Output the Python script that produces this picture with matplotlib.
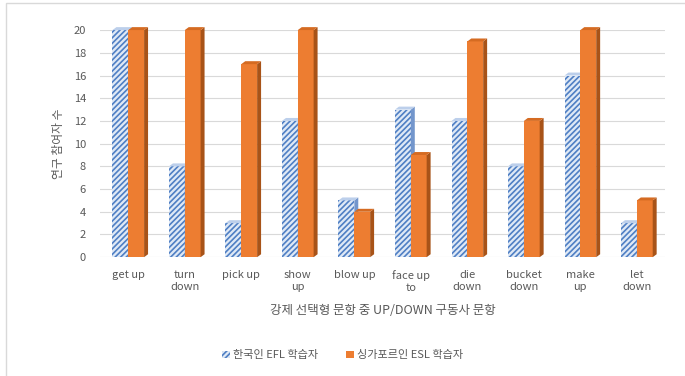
import matplotlib.pyplot as plt
from matplotlib.patches import Polygon, Rectangle, Patch
import numpy as np

plt.rcParams['font.family'] = ['Noto Sans CJK KR', 'DejaVu Sans']
plt.rcParams['hatch.linewidth'] = 1.2

categories = ['get up', 'turn\ndown', 'pick up', 'show\nup', 'blow up',
              'face up\nto', 'die\ndown', 'bucket\ndown', 'make\nup', 'let\ndown']
korean_efl = [20, 8, 3, 12, 5, 13, 12, 8, 16, 3]
singapore_esl = [20, 20, 17, 20, 4, 9, 19, 12, 20, 5]

fig = plt.figure(figsize=(6.85, 3.76), dpi=100)
ax = fig.add_axes([0.146, 0.316, 0.825, 0.604])

x = np.arange(len(categories))
w = 0.28
dx, dy = 0.07, 0.26


def bar3d(xs, vals, face, side, top, hatch=None, edge=None):
    for xc, v in zip(xs, vals):
        ax.bar(xc, v, width=w, color=face, hatch=hatch, edgecolor=edge,
               linewidth=0, zorder=3)
        r = xc + w / 2
        l = xc - w / 2
        ax.add_patch(Polygon([(r, 0), (r + dx, dy), (r + dx, v + dy), (r, v)],
                             closed=True, facecolor=side, linewidth=0,
                             zorder=3, clip_on=False))
        ax.add_patch(Polygon([(l, v), (r, v), (r + dx, v + dy), (l + dx, v + dy)],
                             closed=True, facecolor=top, linewidth=0,
                             zorder=3, clip_on=False))


bar3d(x - 0.14, korean_efl, '#dfe9f6', '#7396cc', '#bccfeb',
      hatch='//////', edge='#4f7fc4')
bar3d(x + 0.14, singapore_esl, '#ed7d31', '#a85318', '#d56b22')

ax.set_xlim(-0.5, len(categories) - 0.5)
ax.set_ylim(0, 20)
ax.set_yticks(range(0, 21, 2))
ax.set_xticks(x)
ax.set_xticklabels(categories, fontsize=8, color='#595959', linespacing=1.3)
ax.tick_params(axis='y', labelsize=8, labelcolor='#595959', length=0, pad=10)
ax.tick_params(axis='x', length=0, pad=9)
ax.yaxis.grid(True, color='#d9d9d9', linewidth=0.8, zorder=0)
ax.set_axisbelow(True)
for s in ax.spines.values():
    s.set_visible(False)

ax.set_ylabel('연구 참여자 수', fontsize=8.5, color='#595959', labelpad=6)
ax.set_xlabel('강제 선택형 문항 중 UP/DOWN 구동사 문항', fontsize=9,
              color='#595959', labelpad=8)

handles = [Patch(facecolor='#dfe9f6', edgecolor='#4f7fc4', hatch='//////', linewidth=0),
           Patch(facecolor='#ed7d31', linewidth=0)]
fig.legend(handles, ['한국인 EFL 학습자', '싱가포르인 ESL 학습자'],
           loc='center', bbox_to_anchor=(0.5, 0.055), ncol=2, frameon=False,
           fontsize=8, handlelength=0.7, handleheight=0.7, columnspacing=2.5,
           handletextpad=0.3, labelcolor='#595959')

fig.add_artist(Rectangle((0.009, -0.1), 1.2, 1.092, transform=fig.transFigure,
                         fill=False, edgecolor='#d9d9d9', linewidth=1))

fig.savefig('out.png', dpi=100)
